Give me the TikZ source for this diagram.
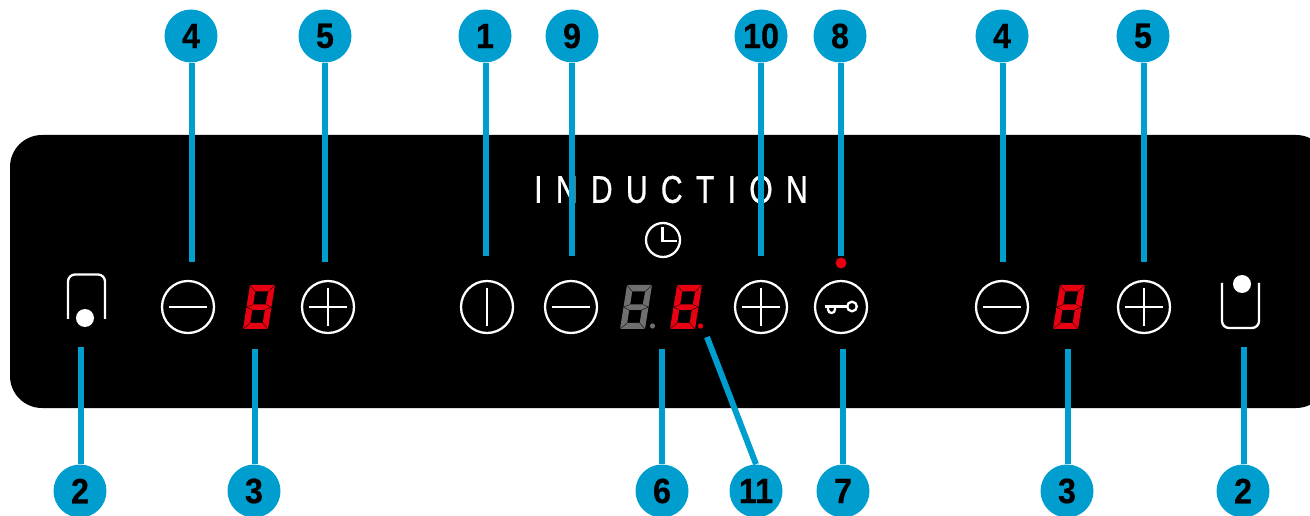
\documentclass[tikz,border=0pt]{standalone}
\usepackage{fontspec}
\setmainfont{Liberation Sans}
\newfontfamily\panelfont[LetterSpace=44,FakeBold=0.8]{Liberation Sans}
\definecolor{leaderblue}{HTML}{009DCF}
\definecolor{segred}{HTML}{E60012}
\definecolor{seggrey}{HTML}{6F6F6F}
\tikzset{
    callout/.style={circle, fill=leaderblue, minimum size=1.06cm, inner sep=0pt, font=\fontsize{20}{20}\selectfont\bfseries\addfontfeature{FakeStretch=0.92,FakeBold=0.4}},
    leader/.style={draw=leaderblue, line width=3.4pt},
    keyline/.style={draw=white, line width=1.3pt},
    pics/segdigit/.style={code={
        \fill[#1, even odd rule] (0,0) -- (25,0) -- (18,44) -- (-7,44) -- cycle
            (5.2,6.5) -- (18.2,6.5) -- (15.7,19.5) -- (3.2,19.5) -- cycle
            (2.2,25) -- (14.8,25) -- (12.7,38) -- (0.2,38) -- cycle;
        \draw[black, line width=0.2pt] (0,0) -- (5.2,6.5) (25,0) -- (18.2,6.5)
            (-7,44) -- (0.2,38) (18,44) -- (12.7,38)
            (3.2,19.5) -- (-3.5,22) -- (2.2,25) (15.7,19.5) -- (21.5,22) -- (14.8,25);
    }}
}
\begin{document}
\begin{tikzpicture}[x=0.02cm, y=-0.02cm]
    \useasboundingbox (0,0) rectangle (1310,516);

    % Panel
    \fill[black, rounded corners=0.64cm] (10,135) rectangle (1328,408);
    \node[text=white, xscale=0.78, inner sep=0pt, font=\fontsize{22}{22}\panelfont] (brand) at (671,189.5) {INDUCTION};

    % Clock
    \draw[keyline] (663,240) circle (17);
    \draw[keyline] (662.5,227) -- (662.5,241) -- (677,241);

    % Minus buttons
    \foreach \x in {188,571,1002} {
        \draw[keyline] (\x,307) circle (26);
        \draw[keyline] (\x-19,307) -- (\x+19,307);
    }

    % Plus buttons
    \foreach \x in {328,761,1144} {
        \draw[keyline] (\x,307) circle (26);
        \draw[keyline] (\x-19,307) -- (\x+19,307);
        \draw[keyline] (\x,288) -- (\x,326);
    }

    % Power button
    \draw[keyline] (487,307) circle (26);
    \draw[keyline] (487,288) -- (487,326);

    % Key button
    \draw[keyline] (841,307) circle (26);
    \draw[keyline] (825,306.5) -- (847.5,306.5);
    \draw[keyline] (852,306.5) circle (4.8);
    \draw[keyline] (828,306.5) -- (828,309.5) arc[start angle=180, end angle=0, radius=3.5] -- (835,306.5);

    % Displays
    \pic at (250,285) {segdigit=segred};
    \pic at (627,285) {segdigit=seggrey};
    \pic at (677,285) {segdigit=segred};
    \pic at (1060,285) {segdigit=segred};
    \fill[seggrey] (652.5,326) circle (2.6);
    \fill[segred] (700.5,326) circle (2.7);

    % Zone markers
    \draw[keyline, rounded corners=0.14cm] (68,319) -- (68,274.5) -- (105,274.5) -- (105,319);
    \fill[white] (85,318) circle (9);
    \draw[keyline, rounded corners=0.14cm] (1222,283) -- (1222,328) -- (1259,328) -- (1259,283);
    \fill[white] (1242,284) circle (9);

    % Top callouts
    \foreach \nm/\x/\xend/\yend/\lab in {a/191/192/262/4, b/325/325/262/5, c/485/486/256/1, d/572/572/256/9, e/761/761/256/10, f/840/841/256/8, g/1002/1003/262/4, h/1143/1144/262/5} {
        \node[callout] (top\nm) at (\x,36) {\lab};
        \coordinate (tip\nm) at (\xend,\yend);
        \draw[leader] (top\nm.south -| tip\nm) -- (tip\nm);
    }
    \fill[segred] (841,263) circle (5.5);

    % Bottom callouts
    \foreach \nm/\x/\xend/\yend/\lab in {a/80/81/347/2, b/254/255/349/3, c/662/662/349/6, e/843/843/349/7, f/1067/1068/349/3, g/1243/1244/347/2} {
        \node[callout] (low\nm) at (\x,491) {\lab};
        \coordinate (end\nm) at (\xend,\yend);
        \draw[leader] (low\nm.north -| end\nm) -- (end\nm);
    }
    \node[callout] (lowd) at (756,491) {11};
    \coordinate (endd) at (707,337);
    \draw[leader] (lowd.north) -- (endd);
\end{tikzpicture}
\end{document}
